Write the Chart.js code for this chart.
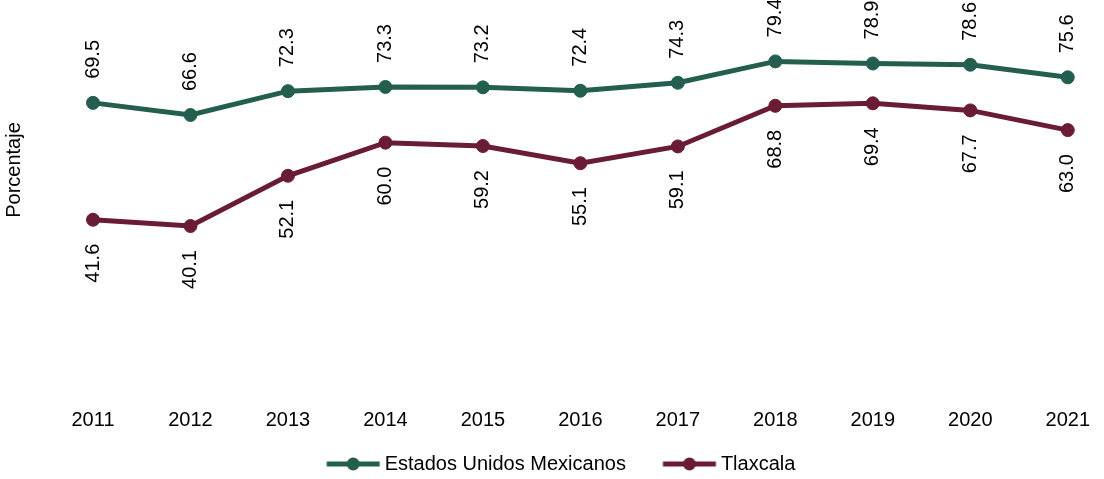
<!DOCTYPE html>
<html>
<head>
<meta charset="utf-8">
<script src="https://cdn.jsdelivr.net/npm/chart.js@4/dist/chart.umd.min.js"></script>
<style>
  html, body { margin: 0; padding: 0; background: #fff; }
  #wrap { width: 1104px; height: 479px; }
</style>
</head>
<body>
<div id="wrap"><canvas id="chart"></canvas></div>
<script>
// data
const years = ["2011", "2012", "2013", "2014", "2015", "2016", "2017", "2018", "2019", "2020", "2021"];
const nacional = [69.5, 66.6, 72.3, 73.3, 73.2, 72.4, 74.3, 79.4, 78.9, 78.6, 75.6];
const tlaxcala = [41.6, 40.1, 52.1, 60.0, 59.2, 55.1, 59.1, 68.8, 69.4, 67.7, 63.0];

const green = "#245e4f";
const wine = "#6a1c34";
const font = "'Liberation Sans', Arial, sans-serif";

Chart.defaults.font.family = font;
Chart.defaults.font.size = 20;
Chart.defaults.color = "#000";

// legend marker: line with a dot, drawn a bit left of the box
const boxW = 77;
function marker(color) {
  const c = document.createElement("canvas");
  c.width = 90;
  c.height = 16;
  const g = c.getContext("2d");
  const off = c.width / 2 - boxW / 2;
  const x0 = off + 29, x1 = off + boxW + 5;
  g.strokeStyle = color;
  g.lineWidth = 5;
  g.lineCap = "butt";
  g.beginPath();
  g.moveTo(x0, 8);
  g.lineTo(x1, 8);
  g.stroke();
  g.fillStyle = color;
  g.beginPath();
  g.arc((x0 + x1) / 2, 8, 6.5, 0, Math.PI * 2);
  g.fill();
  return c;
}
const markers = [marker(green), marker(wine)];

// value labels, rotated
const valueLabels = {
  id: "valueLabels",
  afterDatasetsDraw(chart) {
    const ctx = chart.ctx;
    chart.data.datasets.forEach((ds, di) => {
      const meta = chart.getDatasetMeta(di);
      meta.data.forEach((pt, i) => {
        ctx.save();
        ctx.translate(pt.x, pt.y);
        ctx.rotate(-Math.PI / 2);
        ctx.font = "20px " + font;
        ctx.fillStyle = "#000";
        ctx.textBaseline = "middle";
        const txt = ds.data[i].toFixed(1);
        if (di === 0) {
          ctx.textAlign = "left";
          ctx.fillText(txt, 24, 0);
        } else {
          ctx.textAlign = "right";
          ctx.fillText(txt, -24, 0);
        }
        ctx.restore();
      });
    });
  }
};

// y title
const yTitle = {
  id: "yTitle",
  afterDraw(chart) {
    const ctx = chart.ctx;
    ctx.save();
    ctx.translate(14.5, 170);
    ctx.rotate(-Math.PI / 2);
    ctx.font = "20px " + font;
    ctx.fillStyle = "#000";
    ctx.textAlign = "center";
    ctx.textBaseline = "middle";
    ctx.fillText("Porcentaje", 0, 0);
    ctx.restore();
  }
};

const hidden = {
  grid: { display: false, drawTicks: false },
  border: { display: false },
  ticks: { display: false },
};

new Chart(document.getElementById("chart"), {
  type: "line",
  data: {
    labels: years,
    datasets: [
      {
        label: "Estados Unidos Mexicanos",
        data: nacional,
        borderColor: green,
        backgroundColor: green,
        pointBackgroundColor: green,
        pointBorderColor: green,
      },
      {
        label: "Tlaxcala",
        data: tlaxcala,
        borderColor: wine,
        backgroundColor: wine,
        pointBackgroundColor: wine,
        pointBorderColor: wine,
      },
    ],
  },
  options: {
    responsive: true,
    maintainAspectRatio: false,
    animation: false,
    elements: {
      line: { borderWidth: 5, tension: 0 },
      point: { radius: 6.5, borderWidth: 1, hoverRadius: 6.5 },
    },
    layout: {
      padding: { top: 17, right: 11, bottom: -5, left: 0 },
    },
    scales: {
      x: {
        offset: false,
        grid: { display: false, drawTicks: false },
        border: { display: false },
        ticks: { padding: 14, maxRotation: 0, autoSkip: false },
      },
      y: {
        ...hidden,
        min: 0,
        max: 90,
        afterFit(scale) {
          scale.width = 93;
        },
      },
      y2: {
        ...hidden,
        position: "right",
        min: 0,
        max: 90,
        afterFit(scale) {
          scale.width = 12;
        },
      },
    },
    plugins: {
      tooltip: { enabled: false },
      legend: {
        position: "bottom",
        labels: {
          usePointStyle: true,
          pointStyleWidth: boxW,
          padding: 8,
          generateLabels(chart) {
            const items = Chart.defaults.plugins.legend.labels.generateLabels(chart);
            items.forEach((it, i) => { it.pointStyle = markers[i]; });
            return items;
          },
        },
      },
    },
  },
  plugins: [valueLabels, yTitle],
});
</script>
</body>
</html>
